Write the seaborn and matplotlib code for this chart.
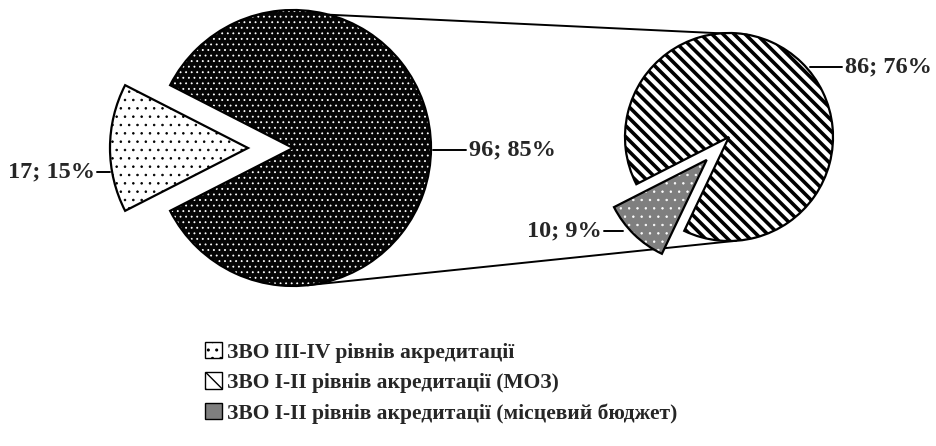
import matplotlib
matplotlib.use('Agg')
import matplotlib.pyplot as plt
import seaborn as sns
import numpy as np
from matplotlib.patches import Patch

# data
main_labels = ['ЗВО III-IV рівнів акредитації', 'ЗВО I-II рівнів акредитації']
main_values = [17, 96]
sub_labels = ['ЗВО I-II рівнів акредитації (МОЗ)', 'ЗВО I-II рівнів акредитації (місцевий бюджет)']
sub_values = [86, 10]
total = sum(main_values)

sns.set_theme(style='white')
plt.rcParams['font.family'] = ['Liberation Serif', 'DejaVu Serif']
plt.rcParams['font.weight'] = 'bold'

fig = plt.figure(figsize=(9.36, 4.46), dpi=100)
ax = fig.add_axes([0, 0, 1, 1])

# pie geometry (axes units = pixels)
c_main, r_main = (293, 298), 138
c_sub, r_sub = (729, 309), 104

# face colour, hatch colour, hatch, hatch linewidth
main_styles = [('white', 'black', '..', 0.6),
               ('#050505', 'white', '...', 0.6)]
sub_styles = [('white', 'black', '\\\\\\', 2.6),
              ('#7f7f7f', 'white', '..', 0.5)]


def draw_pie(values, center, radius, startangle, explode, styles):
    wedges, _ = ax.pie(values, center=center, radius=radius, startangle=startangle,
                       explode=explode, counterclock=True, frame=True,
                       wedgeprops=dict(linewidth=0))
    for w, (fc, hc, hatch, hlw) in zip(wedges, styles):
        w.set_facecolor(fc)
        w.set_edgecolor(hc)
        w.set_hatch(hatch)
        if hasattr(w, 'set_hatch_linewidth'):
            w.set_hatch_linewidth(hlw)
    ax.pie(values, center=center, radius=radius, startangle=startangle,
           explode=explode, counterclock=True, frame=True,
           wedgeprops=dict(fill=False, edgecolor='black', linewidth=1.6))
    return wedges


main_w = draw_pie(main_values, c_main, r_main, 180 - 360 * main_values[0] / total / 2,
                  [45, 0], main_styles)
sub_w = draw_pie(sub_values, c_sub, r_sub, 207 - 360 * sub_values[0] / sum(sub_values),
                 [0, 32], sub_styles)
ax.set_xlim(0, 936)
ax.set_ylim(0, 446)
ax.set_aspect('auto')
ax.axis('off')

# connector lines between the two pies
for a_main, a_sub in [(75, 80), (-84, -86)]:
    p1 = (c_main[0] + r_main * np.cos(np.radians(a_main)), c_main[1] + r_main * np.sin(np.radians(a_main)))
    p2 = (c_sub[0] + r_sub * np.cos(np.radians(a_sub)), c_sub[1] + r_sub * np.sin(np.radians(a_sub)))
    ax.plot([p1[0], p2[0]], [p1[1], p2[1]], color='black', lw=1.4, zorder=0)

# data labels
fs = 17.5
def lab(v):
    return f'{v}; {round(v / total * 100)}%'

ax.plot([97, 110], [274, 274], color='black', lw=1.4)
ax.text(95, 274, lab(main_values[0]), ha='right', va='center', fontsize=fs, fontweight='bold')
ax.plot([433, 466], [296, 296], color='black', lw=1.4)
ax.text(469, 296, lab(main_values[1]), ha='left', va='center', fontsize=fs, fontweight='bold')
ax.plot([810, 842], [379, 379], color='black', lw=1.4)
ax.text(845, 379, lab(sub_values[0]), ha='left', va='center', fontsize=fs, fontweight='bold')
ax.plot([604, 623], [215, 215], color='black', lw=1.4)
ax.text(602, 215, lab(sub_values[1]), ha='right', va='center', fontsize=fs, fontweight='bold')

# legend
handles = [Patch(facecolor='white', edgecolor='black', hatch='..', lw=1),
           Patch(facecolor='white', edgecolor='black', hatch='\\\\', lw=1),
           Patch(facecolor='#7f7f7f', edgecolor='black', lw=1)]
labels = [main_labels[0], sub_labels[0], sub_labels[1]]
fig.legend(handles, labels, loc='upper left', bbox_to_anchor=(205 / 936, 1 - 342 / 446),
           frameon=False, handlelength=0.8, handleheight=0.8,
           handletextpad=0.2, labelspacing=0.45, borderpad=0, borderaxespad=0,
           prop=dict(weight='bold', size=15.5))

fig.savefig('out.png', dpi=100)
